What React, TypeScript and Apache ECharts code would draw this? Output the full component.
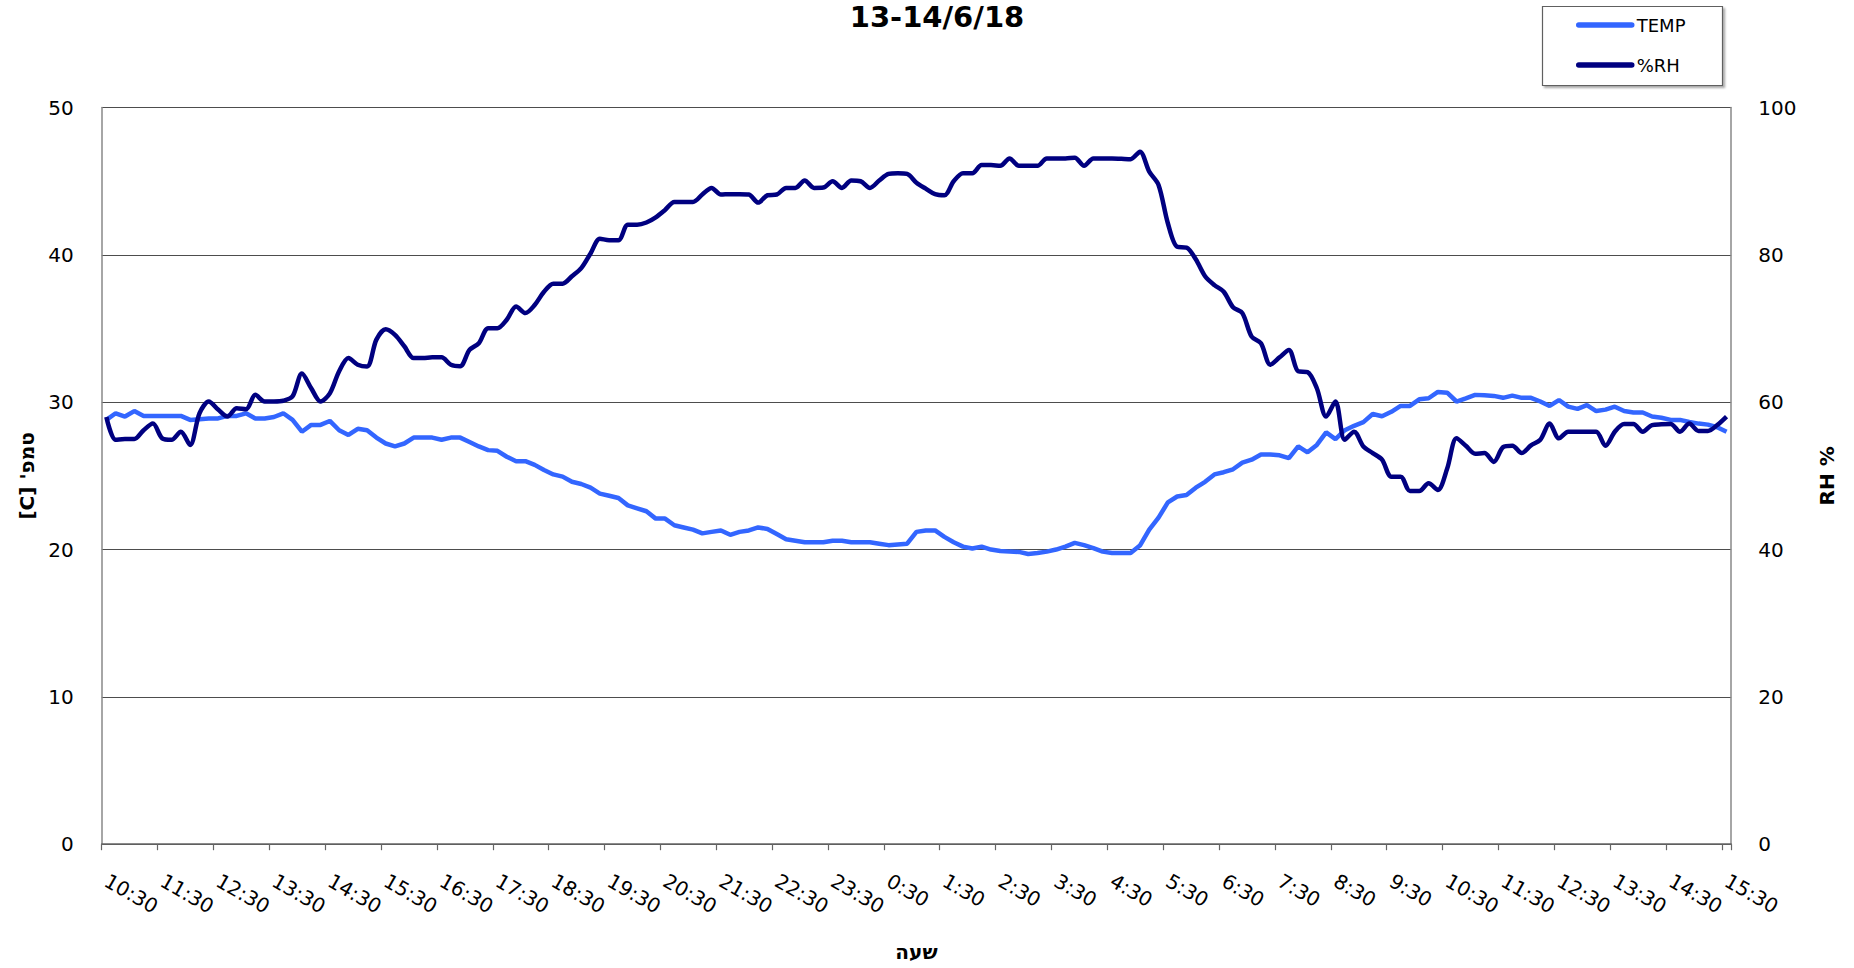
import React, { useEffect, useRef } from "react";
import * as echarts from "echarts";

const tickLabels = [
  "10:30", "11:30", "12:30", "13:30", "14:30", "15:30", "16:30", "17:30", "18:30", "19:30",
  "20:30", "21:30", "22:30", "23:30", "0:30", "1:30", "2:30", "3:30", "4:30", "5:30",
  "6:30", "7:30", "8:30", "9:30", "10:30", "11:30", "12:30", "13:30", "14:30", "15:30",
];

const tempC = [
  28.8, 29.25, 29.03, 29.4, 29.07, 29.07, 29.07, 29.07, 29.07, 28.8,
  28.85, 28.9, 28.9, 29.07, 29.07, 29.25, 28.9, 28.9, 29.0, 29.25,
  28.8, 28.0, 28.46, 28.46, 28.73, 28.1, 27.78, 28.2, 28.1, 27.6,
  27.2, 27.0, 27.2, 27.6, 27.6, 27.6, 27.45, 27.6, 27.6, 27.3,
  27.0, 26.75, 26.7, 26.3, 26.0, 26.0, 25.75, 25.4, 25.1, 24.95,
  24.6, 24.45, 24.2, 23.8, 23.65, 23.5, 23.0, 22.8, 22.6, 22.1,
  22.1, 21.65, 21.5, 21.35, 21.1, 21.2, 21.3, 21.0, 21.2, 21.3,
  21.5, 21.4, 21.05, 20.7, 20.6, 20.5, 20.5, 20.5, 20.6, 20.6,
  20.5, 20.5, 20.5, 20.4, 20.3, 20.35, 20.4, 21.2, 21.3, 21.3,
  20.86, 20.5, 20.2, 20.07, 20.2, 20.0, 19.9, 19.86, 19.84, 19.7,
  19.77, 19.86, 20.0, 20.2, 20.45, 20.3, 20.1, 19.86, 19.77, 19.77,
  19.77, 20.27, 21.36, 22.17, 23.2, 23.6, 23.7, 24.2, 24.6, 25.1,
  25.25, 25.45, 25.9, 26.1, 26.45, 26.45, 26.4, 26.2, 27.0, 26.6,
  27.1, 27.95, 27.5, 28.1, 28.4, 28.65, 29.2, 29.05, 29.35, 29.75,
  29.75, 30.2, 30.27, 30.7, 30.65, 30.05, 30.27, 30.5, 30.47, 30.43,
  30.3, 30.45, 30.3, 30.3, 30.05, 29.75, 30.15, 29.7, 29.55, 29.8,
  29.4, 29.5, 29.7, 29.4, 29.3, 29.3, 29.03, 28.95, 28.8, 28.8,
  28.66, 28.55, 28.48, 28.3, 28.0,
];

const rhPct = [
  58.0, 54.9, 55.0, 55.0, 56.2, 57.1, 55.1, 54.9, 56.0, 54.2,
  58.5, 60.1, 59.0, 58.05, 59.2, 59.05, 61.0, 60.1, 60.1, 60.2,
  60.8, 63.9, 61.9, 60.1, 61.2, 64.2, 66.0, 65.1, 64.85, 68.5,
  69.9, 69.15, 67.6, 66.0, 66.0, 66.1, 66.1, 65.1, 64.9, 67.1,
  68.0, 70.05, 70.05, 71.2, 73.0, 72.1, 73.2, 75.0, 76.1, 76.1,
  77.1, 78.2, 80.2, 82.2, 82.0, 82.0, 84.1, 84.1, 84.4, 85.1,
  86.1, 87.2, 87.2, 87.2, 88.2, 89.1, 88.2, 88.25, 88.25, 88.2,
  87.1, 88.1, 88.2, 89.1, 89.1, 90.1, 89.1, 89.15, 90.0, 89.1,
  90.1, 90.0, 89.1, 90.1, 91.0, 91.1, 91.0, 89.8, 89.0, 88.25,
  88.1, 90.0, 91.1, 91.1, 92.2, 92.2, 92.1, 93.1, 92.1, 92.1,
  92.1, 93.1, 93.1, 93.1, 93.2, 92.1, 93.1, 93.1, 93.1, 93.05,
  93.0, 94.0, 91.3, 89.5, 84.3, 81.1, 81.0, 79.4, 77.1, 75.9,
  75.0, 72.9, 72.1, 68.9, 68.0, 65.1, 66.1, 67.1, 64.2, 64.1,
  61.9, 58.05, 60.1, 54.9, 56.0, 54.0, 53.1, 52.2, 49.9, 49.9,
  47.95, 47.95, 49.0, 48.1, 51.0, 55.1, 54.1, 53.0, 53.1, 51.9,
  53.9, 54.1, 53.1, 54.15, 54.9, 57.1, 55.1, 56.0, 56.0, 56.0,
  56.0, 54.1, 56.0, 57.05, 57.05, 56.0, 56.9, 57.0, 57.05, 56.0,
  57.1, 56.1, 56.1, 56.9, 58.05,
];

// 10-minute categories; one tick label every 6 categories
function buildCategories(): string[] {
  const cats: string[] = [];
  let day = 13;
  tickLabels.forEach((lab, k) => {
    const [h, m] = lab.split(":").map(Number);
    if (k > 0 && h === 0) day = 14;
    const steps = k === tickLabels.length - 1 ? 1 : 6;
    for (let s = 0; s < steps; s++) {
      const total = h * 60 + m + s * 10;
      const hh = Math.floor(total / 60);
      const mm = total % 60;
      cats.push(`${day}/6 ${hh}:${String(mm).padStart(2, "0")}`);
    }
  });
  return cats;
}

const FONT = "'DejaVu Sans', 'Noto Sans', sans-serif";

export default function App() {
  const ref = useRef<HTMLDivElement>(null);
  useEffect(() => {
    if (!ref.current) return;
    const chart = echarts.init(ref.current, undefined, { renderer: "svg" });
    const categories = buildCategories();
    chart.setOption({
      animation: false,
      backgroundColor: "#ffffff",
      title: {
        text: "13-14/6/18",
        left: 937,
        top: 2,
        padding: 0,
        textAlign: "center",
        textStyle: { fontFamily: FONT, fontSize: 29, fontWeight: "bold", color: "#000" },
      },
      graphic: [
        {
          type: "rect",
          shape: { x: 1542.5, y: 6.5, width: 180, height: 79 },
          style: {
            fill: "#fff",
            stroke: "#606060",
            lineWidth: 1.2,
            shadowColor: "rgba(0,0,0,0.35)",
            shadowOffsetX: 2,
            shadowOffsetY: 2,
            shadowBlur: 2,
          },
          z: 0,
        },
      ],
      legend: {
        orient: "vertical",
        left: 1576,
        top: 16,
        padding: 0,
        itemWidth: 53,
        itemHeight: 18,
        itemGap: 22,
        z: 10,
        data: ["TEMP", "%RH"],
        itemStyle: { opacity: 0 },
        lineStyle: { width: 5.5, cap: "round" },
        textStyle: { fontFamily: FONT, fontSize: 18, color: "#000" },
      },
      grid: { left: 101.7, right: 122.8, top: 107.6, bottom: 123.8, containLabel: false },
      xAxis: {
        type: "category",
        data: categories,
        boundaryGap: true,
        name: "שעה",
        nameLocation: "middle",
        nameGap: 98,
        nameTextStyle: { fontFamily: FONT, fontSize: 20, fontWeight: "bold", color: "#000" },
        axisLine: { lineStyle: { color: "#666", width: 1.5 } },
        axisTick: { show: true, interval: 5, length: 6, lineStyle: { color: "#666", width: 1.2 } },
        axisLabel: {
          interval: 5,
          rotate: -30,
          margin: 35,
          fontFamily: FONT,
          fontSize: 20,
          color: "#000",
          formatter: (_v: string, idx: number) => tickLabels[Math.round(idx / 6)] ?? "",
        },
        splitLine: { show: false },
      },
      yAxis: [
        {
          type: "value",
          min: 0,
          max: 50,
          interval: 10,
          name: "[C] 'טמפ",
          nameLocation: "middle",
          nameRotate: 90,
          nameGap: 65,
          nameTextStyle: { fontFamily: FONT, fontSize: 20, fontWeight: "bold", color: "#000" },
          axisLine: { show: true, lineStyle: { color: "#888", width: 1.5 } },
          axisTick: { show: false },
          axisLabel: { margin: 28, fontFamily: FONT, fontSize: 20, color: "#000" },
          splitLine: { show: true, lineStyle: { color: "#4d4d4d", width: 1.2 } },
        },
        {
          type: "value",
          min: 0,
          max: 100,
          interval: 20,
          position: "right",
          name: "RH %",
          nameLocation: "middle",
          nameRotate: 90,
          nameGap: 86,
          nameTextStyle: { fontFamily: FONT, fontSize: 20, fontWeight: "bold", color: "#000" },
          axisLine: { show: true, lineStyle: { color: "#888", width: 1.5 } },
          axisTick: { show: false },
          axisLabel: { margin: 27, fontFamily: FONT, fontSize: 20, color: "#000" },
          splitLine: { show: false },
        },
      ],
      series: [
        {
          name: "TEMP",
          type: "line",
          yAxisIndex: 0,
          data: tempC,
          symbol: "none",
          lineStyle: { color: "#3366FF", width: 4.5 },
          itemStyle: { color: "#3366FF" },
          z: 3,
        },
        {
          name: "%RH",
          type: "line",
          yAxisIndex: 1,
          data: rhPct,
          symbol: "none",
          smooth: 0.3,
          lineStyle: { color: "#000080", width: 4.5 },
          itemStyle: { color: "#000080" },
          z: 4,
        },
      ],
    });
    return () => chart.dispose();
  }, []);
  return (
    <div
      ref={ref}
      style={{ position: "fixed", left: 0, top: 0, width: 1854, height: 968, background: "#fff" }}
    />
  );
}
